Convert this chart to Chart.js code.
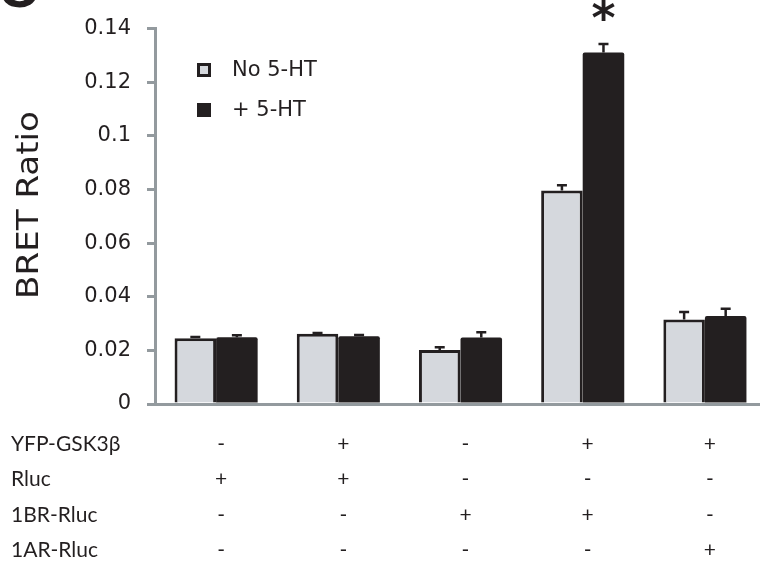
<!DOCTYPE html>
<html>
<head>
<meta charset="utf-8">
<script src="https://cdn.jsdelivr.net/npm/chart.js@4"></script>
<style>
  html, body { margin: 0; padding: 0; background: #fff; overflow: hidden; }
  #wrap { width: 770px; height: 567px; }
</style>
</head>
<body>
<div id="wrap"><canvas id="barChart"></canvas></div>
<script>
// Grupos (combinaciones de la tabla inferior)
const categorias = ['Rluc', 'YFP-GSK3β + Rluc', '1BR-Rluc', 'YFP-GSK3β + 1BR-Rluc', 'YFP-GSK3β + 1AR-Rluc'];

// BRET ratio, sin y con 5-HT
const sin5HT = [0.0245, 0.0262, 0.0201, 0.0796, 0.0315];
const sin5HTErr = [0.0005, 0.0003, 0.0011, 0.0020, 0.0028];
const con5HT = [0.0249, 0.0253, 0.0248, 0.1311, 0.0328];
const con5HTErr = [0.0007, 0.0004, 0.0020, 0.0032, 0.0027];

const yMin = 0, yMax = 0.14, yPaso = 0.02;

// Tabla de transfecciones
const filas = ['YFP-GSK3β', 'Rluc', '1BR-Rluc', '1AR-Rluc'];
const signos = [
    ['-', '+', '-', '+', '+'],
    ['+', '+', '-', '-', '-'],
    ['-', '-', '+', '+', '-'],
    ['-', '-', '-', '-', '+']
];

const TINTA = '#231f20';
const EJE = '#939a9e';

// Barras de error (solo hacia arriba)
const errorBars = {
    id: 'errorBars',
    afterDatasetsDraw(chart) {
        const ctx = chart.ctx;
        const y = chart.scales.y;
        const errores = [sin5HTErr, con5HTErr];
        ctx.save();
        ctx.strokeStyle = TINTA;
        ctx.lineWidth = 2.5;
        chart.data.datasets.forEach((ds, d) => {
            chart.getDatasetMeta(d).data.forEach((bar, i) => {
                const top = y.getPixelForValue(ds.data[i] + errores[d][i]);
                ctx.beginPath();
                ctx.moveTo(bar.x, bar.y);
                ctx.lineTo(bar.x, top);
                ctx.moveTo(bar.x - 5, top);
                ctx.lineTo(bar.x + 5, top);
                ctx.stroke();
            });
        });
        ctx.restore();
    }
};

// Leyenda, titulo, asterisco y tabla
const extras = {
    id: 'extras',
    afterDraw(chart) {
        const ctx = chart.ctx;
        const x = chart.scales.x;
        const y = chart.scales.y;
        ctx.save();
        ctx.fillStyle = TINTA;

        // letra del panel
        ctx.font = 'bold 56px "Liberation Sans", Arial, sans-serif';
        ctx.textBaseline = 'alphabetic';
        ctx.textAlign = 'left';
        ctx.fillText('C', -2, 7);

        // titulo eje Y
        ctx.save();
        ctx.translate(38, 205);
        ctx.rotate(-Math.PI / 2);
        ctx.scale(1.1, 1);
        ctx.font = '31px "DejaVu Sans", sans-serif';
        ctx.textAlign = 'center';
        ctx.textBaseline = 'alphabetic';
        ctx.fillText('BRET Ratio', 0, 0);
        ctx.restore();

        // leyenda
        const ds = chart.data.datasets;
        ctx.font = '21px "DejaVu Sans", sans-serif';
        ctx.textBaseline = 'middle';
        ds.forEach((d, k) => {
            const yy = 70 + k * 40;
            ctx.fillStyle = d.backgroundColor;
            ctx.fillRect(197, yy - 7, 14, 14);
            if (d.borderWidth) {
                ctx.strokeStyle = TINTA;
                ctx.lineWidth = 3;
                ctx.strokeRect(198.5, yy - 5.5, 11, 11);
            }
            ctx.fillStyle = TINTA;
            ctx.fillText(d.label, 232, yy + 1);
        });

        // asterisco sobre +5-HT del grupo 4
        const barra = chart.getDatasetMeta(1).data[3];
        ctx.font = 'bold 46px "DejaVu Sans", sans-serif';
        ctx.textAlign = 'center';
        ctx.textBaseline = 'alphabetic';
        ctx.fillText('*', barra.x, 34);

        // tabla
        ctx.font = '21px Lato, sans-serif';
        ctx.textBaseline = 'middle';
        filas.forEach((f, r) => {
            const yy = 444 + r * 35.5;
            ctx.textAlign = 'left';
            ctx.fillText(f, 11, yy);
            ctx.textAlign = 'center';
            signos[r].forEach((s, i) => {
                ctx.fillText(s, x.getPixelForValue(i) + 5, yy);
            });
        });
        ctx.restore();
    }
};

const barChart = new Chart(document.getElementById('barChart'), {
    type: 'bar',
    data: {
        labels: categorias,
        datasets: [{
            label: 'No 5-HT',
            data: sin5HT,
            backgroundColor: '#d5d8dd',
            borderColor: TINTA,
            borderWidth: 3,
            categoryPercentage: 0.68,
            barPercentage: 1
        }, {
            label: '+ 5-HT',
            data: con5HT,
            backgroundColor: TINTA,
            borderWidth: 0,
            borderRadius: 2,
            categoryPercentage: 0.68,
            barPercentage: 1
        }]
    },
    options: {
        responsive: true,
        maintainAspectRatio: false,
        animation: false,
        layout: { padding: { top: 19, right: 4, left: 0, bottom: 0 } },
        plugins: {
            legend: { display: false },
            tooltip: { enabled: false }
        },
        scales: {
            x: {
                grid: { display: false },
                ticks: { display: false },
                border: { color: EJE, width: 3 },
                afterFit(s) { s.height = 163; }
            },
            y: {
                min: yMin,
                max: yMax,
                grid: { drawOnChartArea: false, drawTicks: true, tickLength: 8, color: EJE, lineWidth: 3 },
                border: { color: EJE, width: 3 },
                ticks: {
                    stepSize: yPaso,
                    padding: 16,
                    color: TINTA,
                    font: { family: '"DejaVu Sans", sans-serif', size: 21 },
                    callback: v => String(+v.toFixed(2))
                },
                afterFit(s) { s.width = 155; }
            }
        }
    },
    plugins: [errorBars, extras]
});
</script>
</body>
</html>
